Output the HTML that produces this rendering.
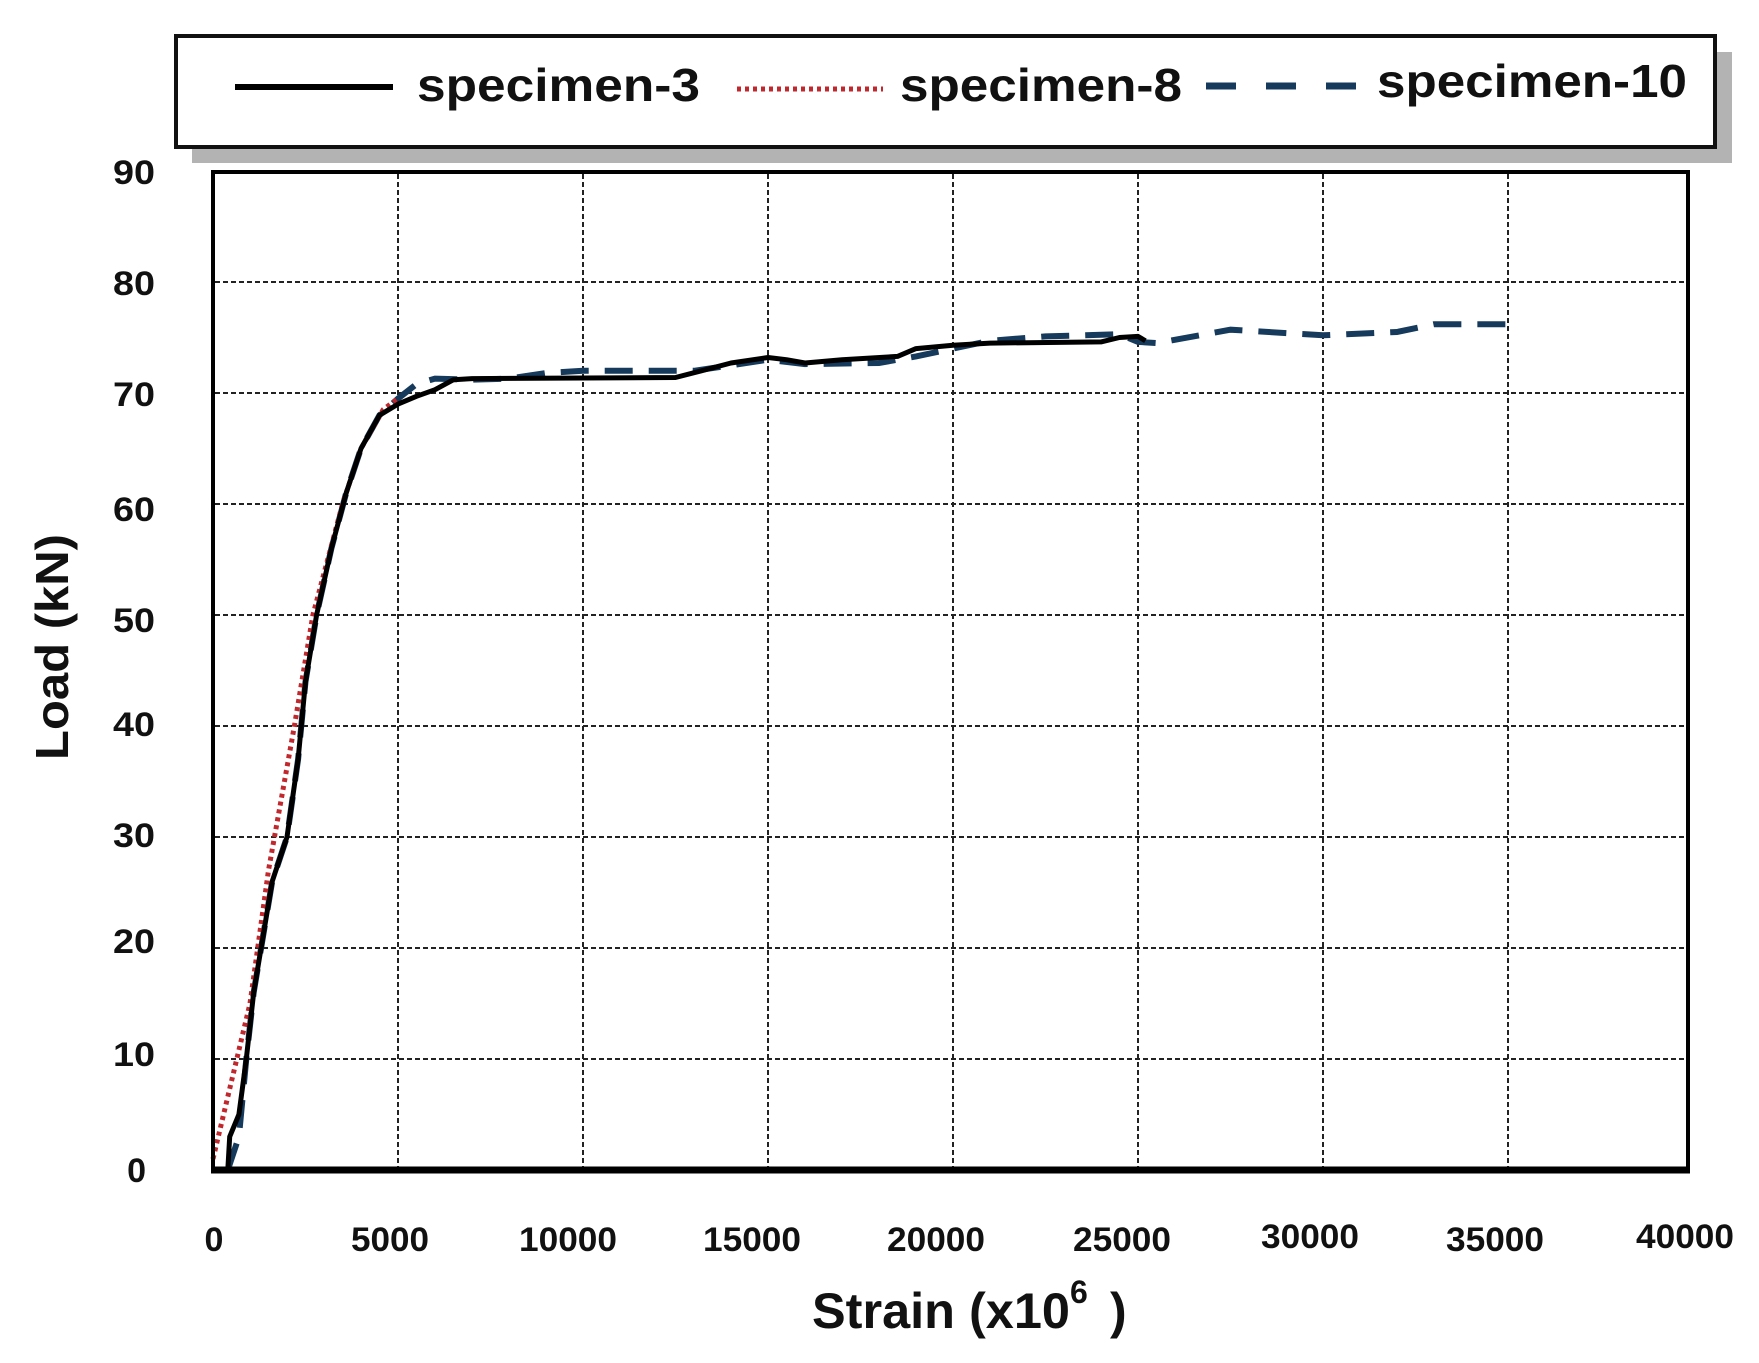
<!DOCTYPE html>
<html><head><meta charset="utf-8"><style>
html,body{margin:0;padding:0;background:#fff;}
svg{display:block;}
text{font-family:"Liberation Sans",Arial,sans-serif;font-weight:bold;fill:#111;}
</style></head><body>
<svg id="s" width="1759" height="1363" viewBox="0 0 1759 1363" xmlns="http://www.w3.org/2000/svg">
<rect width="1759" height="1363" fill="#fff"/>
<rect x="192" y="52" width="1540" height="111" fill="#b3b3b3"/>
<rect x="176" y="36" width="1539" height="111" fill="#fff" stroke="#111" stroke-width="4"/>
<line x1="235" y1="87" x2="393" y2="87" stroke="#000" stroke-width="6"/>
<text x="417" y="101" font-size="46" textLength="283" lengthAdjust="spacingAndGlyphs">specimen-3</text>
<line x1="737" y1="89" x2="883" y2="89" stroke="#c0282d" stroke-width="5" stroke-dasharray="4 4"/>
<text x="900" y="101" font-size="46" textLength="282" lengthAdjust="spacingAndGlyphs">specimen-8</text>
<line x1="1206" y1="86" x2="1356" y2="86" stroke="#163a5c" stroke-width="7" stroke-dasharray="30 30"/>
<text x="1377" y="97" font-size="46" textLength="310" lengthAdjust="spacingAndGlyphs">specimen-10</text>
<g id="grid" stroke="#222" stroke-width="2" stroke-dasharray="5 3"></g>
<g id="series" fill="none"></g>
<rect x="213" y="172" width="1475" height="998" fill="none" stroke="#000" stroke-width="4"/>
<line x1="211" y1="1170" x2="1690" y2="1170" stroke="#000" stroke-width="7"/>
<g font-size="34" text-anchor="end">
<text x="155" y="184" textLength="42" lengthAdjust="spacingAndGlyphs">90</text><text x="155" y="295" textLength="42" lengthAdjust="spacingAndGlyphs">80</text><text x="155" y="406" textLength="42" lengthAdjust="spacingAndGlyphs">70</text>
<text x="155" y="521" textLength="42" lengthAdjust="spacingAndGlyphs">60</text><text x="155" y="632" textLength="42" lengthAdjust="spacingAndGlyphs">50</text><text x="155" y="736" textLength="42" lengthAdjust="spacingAndGlyphs">40</text>
<text x="155" y="847" textLength="42" lengthAdjust="spacingAndGlyphs">30</text><text x="155" y="953" textLength="42" lengthAdjust="spacingAndGlyphs">20</text><text x="155" y="1066" textLength="42" lengthAdjust="spacingAndGlyphs">10</text>
<text x="146" y="1182">0</text>
</g>
<g font-size="34" text-anchor="middle">
<text x="214" y="1251">0</text>
<text x="390" y="1251" textLength="78" lengthAdjust="spacingAndGlyphs">5000</text>
<text x="568" y="1251" textLength="98" lengthAdjust="spacingAndGlyphs">10000</text>
<text x="752" y="1251" textLength="98" lengthAdjust="spacingAndGlyphs">15000</text>
<text x="936" y="1251" textLength="98" lengthAdjust="spacingAndGlyphs">20000</text>
<text x="1122" y="1251" textLength="98" lengthAdjust="spacingAndGlyphs">25000</text>
<text x="1310" y="1248" textLength="98" lengthAdjust="spacingAndGlyphs">30000</text>
<text x="1495" y="1251" textLength="98" lengthAdjust="spacingAndGlyphs">35000</text>
<text x="1685" y="1248" textLength="98" lengthAdjust="spacingAndGlyphs">40000</text>
</g>
<text x="812" y="1328" font-size="50" textLength="258" lengthAdjust="spacingAndGlyphs">Strain (x10</text>
<text x="1070" y="1303" font-size="32">6</text>
<text x="1110" y="1328" font-size="50">)</text>
<text transform="translate(68,647) rotate(-90)" font-size="46" text-anchor="middle" textLength="226" lengthAdjust="spacingAndGlyphs">Load (kN)</text>
</svg>
<script>
var NS="http://www.w3.org/2000/svg";
function X(s){return 213+s*0.037;}
function Y(l){return 1170-l*11.1;}
var g=document.getElementById('grid');
for(var i=1;i<=7;i++){var l=document.createElementNS(NS,'line');var x=X(i*5000);l.setAttribute('x1',x);l.setAttribute('x2',x);l.setAttribute('y1',174);l.setAttribute('y2',1168);g.appendChild(l);}
for(var j=1;j<=8;j++){var l=document.createElementNS(NS,'line');var y=Y(j*10);l.setAttribute('x1',215);l.setAttribute('x2',1686);l.setAttribute('y1',y);l.setAttribute('y2',y);g.appendChild(l);}
function poly(pts,attrs){var p=document.createElementNS(NS,'polyline');p.setAttribute('points',pts.map(function(a){return X(a[0]).toFixed(1)+','+Y(a[1]).toFixed(1);}).join(' '));for(var k in attrs)p.setAttribute(k,attrs[k]);document.getElementById('series').appendChild(p);}
var blue=[[400,0],[700,3],[900,10],[1100,16],[1400,22],[1600,26],[2000,30],[2300,37],[2500,44],[2800,50],[3200,56],[3600,61],[4000,65],[4500,68],[5000,69.5],[5500,70.8],[6000,71.3],[7000,71.2],[8000,71.3],[9000,71.8],[10000,72],[13000,72],[14000,72.5],[15000,73],[16000,72.6],[18000,72.7],[19000,73.3],[21000,74.7],[22500,75.1],[24500,75.3],[25000,74.6],[25500,74.5],[27500,75.7],[30000,75.2],[32000,75.5],[33000,76.2],[35000,76.2]];
var red=[[0,1],[500,8],[1000,15],[1500,27],[2200,40],[2700,50],[3500,60],[4000,65],[4600,68.5],[5000,69.5]];
var black=[[400,0],[450,3],[700,5],[900,10],[1100,16],[1400,22],[1600,26],[2000,30],[2300,37],[2500,44],[2800,50],[3200,56],[3600,61],[4000,65],[4500,68],[5000,69],[5500,69.7],[6000,70.3],[6500,71.2],[7000,71.3],[12500,71.4],[13200,72],[14000,72.7],[15000,73.2],[15500,73],[16000,72.7],[17000,73],[18500,73.3],[19000,74],[20000,74.3],[21000,74.5],[24000,74.6],[24500,75],[25000,75.1],[25200,74.7]];
poly(blue,{stroke:'#163a5c','stroke-width':6,'stroke-dasharray':'28 16'});
poly(red,{stroke:'#c0282d','stroke-width':5,'stroke-dasharray':'4 4'});
poly(black,{stroke:'#000','stroke-width':5,'stroke-linejoin':'round'});
</script>
</body></html>
